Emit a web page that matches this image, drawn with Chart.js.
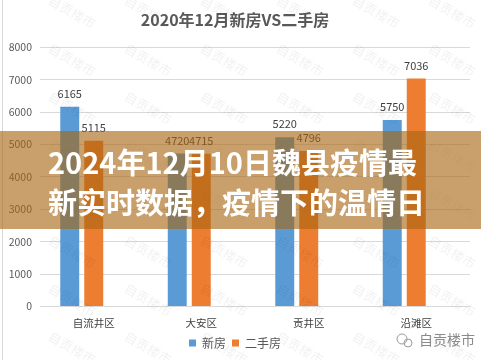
<!DOCTYPE html>
<html>
<head>
<meta charset="utf-8">
<script src="https://cdn.jsdelivr.net/npm/chart.js@4.4.1/dist/chart.umd.min.js"></script>
<style>
html,body{margin:0;padding:0;background:#fff;}
#wrap{width:481px;height:360px;position:relative;}
</style>
</head>
<body>
<div id="wrap"><canvas id="c" width="481" height="360"></canvas></div>
<script>
const chartTitle = "2020年12月新房VS二手房";
const categories = ["自流井区", "大安区", "贡井区", "沿滩区"];
const seriesNames = ["新房", "二手房"];
const newHouse = [6165, 4720, 5220, 5750];
const resale = [5115, 4715, 4796, 7036];
const yTicks = [0, 1000, 2000, 3000, 4000, 5000, 6000, 7000, 8000];
const bannerLines = ["2024年12月10日魏县疫情最", "新实时数据，疫情下的温情日"];
const watermarkText = "自贡楼市";

const FONT = '"Noto Sans CJK SC", "Noto Sans", sans-serif';

const valueLabels = {
  id: 'valueLabels',
  afterDatasetsDraw(chart) {
    const ctx = chart.ctx;
    ctx.save();
    ctx.font = '11px ' + FONT;
    ctx.fillStyle = '#404040';
    ctx.textAlign = 'center';
    ctx.textBaseline = 'middle';
    chart.data.datasets.forEach((ds, i) => {
      if (ds.isSpacer) return;
      const meta = chart.getDatasetMeta(i);
      meta.data.forEach((bar, j) => {
        ctx.fillText(String(ds.data[j]), bar.x, bar.y - 13);
      });
    });
    ctx.restore();
  }
};

const overlay = {
  id: 'overlay',
  afterDraw(chart) {
    const ctx = chart.ctx;
    ctx.save();
    ctx.strokeStyle = '#d9d9d9';
    ctx.lineWidth = 1;
    ctx.beginPath(); ctx.moveTo(2.5, 0); ctx.lineTo(2.5, 360); ctx.stroke();
    ctx.font = '13px ' + FONT;
    ctx.fillStyle = 'rgba(0,0,0,0.06)';
    ctx.textAlign = 'center';
    ctx.textBaseline = 'middle';
    for (let r = 0; r < 8; r++) {
      for (let c = 0; c < 7; c++) {
        const x = 72 + c * 76, y = 12 + r * 48;
        ctx.save();
        ctx.translate(x, y);
        ctx.rotate(Math.PI / 6);
        ctx.fillText(watermarkText, 0, 0);
        ctx.restore();
      }
    }
    ctx.strokeStyle = '#9a9a9a';
    ctx.lineWidth = 1;
    ctx.beginPath(); ctx.arc(402, 339, 5, 0, Math.PI * 2); ctx.stroke();
    ctx.beginPath(); ctx.arc(408, 343, 4, 0, Math.PI * 2); ctx.stroke();
    ctx.fillStyle = '#8a8a8a';
    ctx.font = '14px ' + FONT;
    ctx.textAlign = 'left';
    ctx.fillText(watermarkText, 419, 340);
    ctx.fillStyle = 'rgba(168,102,18,0.62)';
    ctx.fillRect(0, 131, 481, 98);
    ctx.fillStyle = '#ffffff';
    ctx.font = 'bold 29px ' + FONT;
    ctx.textAlign = 'left';
    ctx.textBaseline = 'middle';
    ctx.fillText(bannerLines[0], 48, 163);
    ctx.fillText(bannerLines[1], 48, 203);
    ctx.restore();
  }
};

new Chart(document.getElementById('c'), {
  type: 'bar',
  data: {
    labels: categories,
    datasets: [
      { label: seriesNames[0], data: newHouse, backgroundColor: '#5b9bd5', barPercentage: 0.79, categoryPercentage: 0.67 },
      { label: seriesNames[1], data: resale, backgroundColor: '#ed7d31', barPercentage: 0.79, categoryPercentage: 0.67 },
      { label: '', data: categories.map(() => null), isSpacer: true, backgroundColor: 'rgba(0,0,0,0)', barPercentage: 0.79, categoryPercentage: 0.67 }
    ]
  },
  options: {
    responsive: false,
    animation: false,
    layout: { padding: { left: 0, right: 11, top: 0, bottom: 1 } },
    plugins: {
      title: {
        display: true, text: chartTitle, color: '#595959',
        font: { family: FONT, size: 16, weight: 'bold' },
        padding: { top: 10, bottom: 18 }
      },
      legend: {
        position: 'bottom',
        labels: {
          filter: (item) => item.text !== '',
          boxWidth: 7, boxHeight: 7, padding: 6,
          color: '#595959', font: { family: FONT, size: 12 }
        }
      },
      tooltip: { enabled: false }
    },
    scales: {
      x: {
        grid: { display: false },
        border: { display: false },
        ticks: { color: '#404040', font: { family: FONT, size: 10.5 }, padding: 2 }
      },
      y: {
        min: 0, max: 8000,
        afterFit(scale) { scale.width = 40; },
        afterBuildTicks(scale) { scale.ticks = yTicks.map(v => ({ value: v })); },
        grid: { color: '#d9d9d9', drawTicks: false },
        border: { display: false },
        ticks: { color: '#595959', font: { family: FONT, size: 10.5 }, padding: 8, callback: (v) => String(v) }
      }
    }
  },
  plugins: [valueLabels, overlay]
});
</script>
</body>
</html>
